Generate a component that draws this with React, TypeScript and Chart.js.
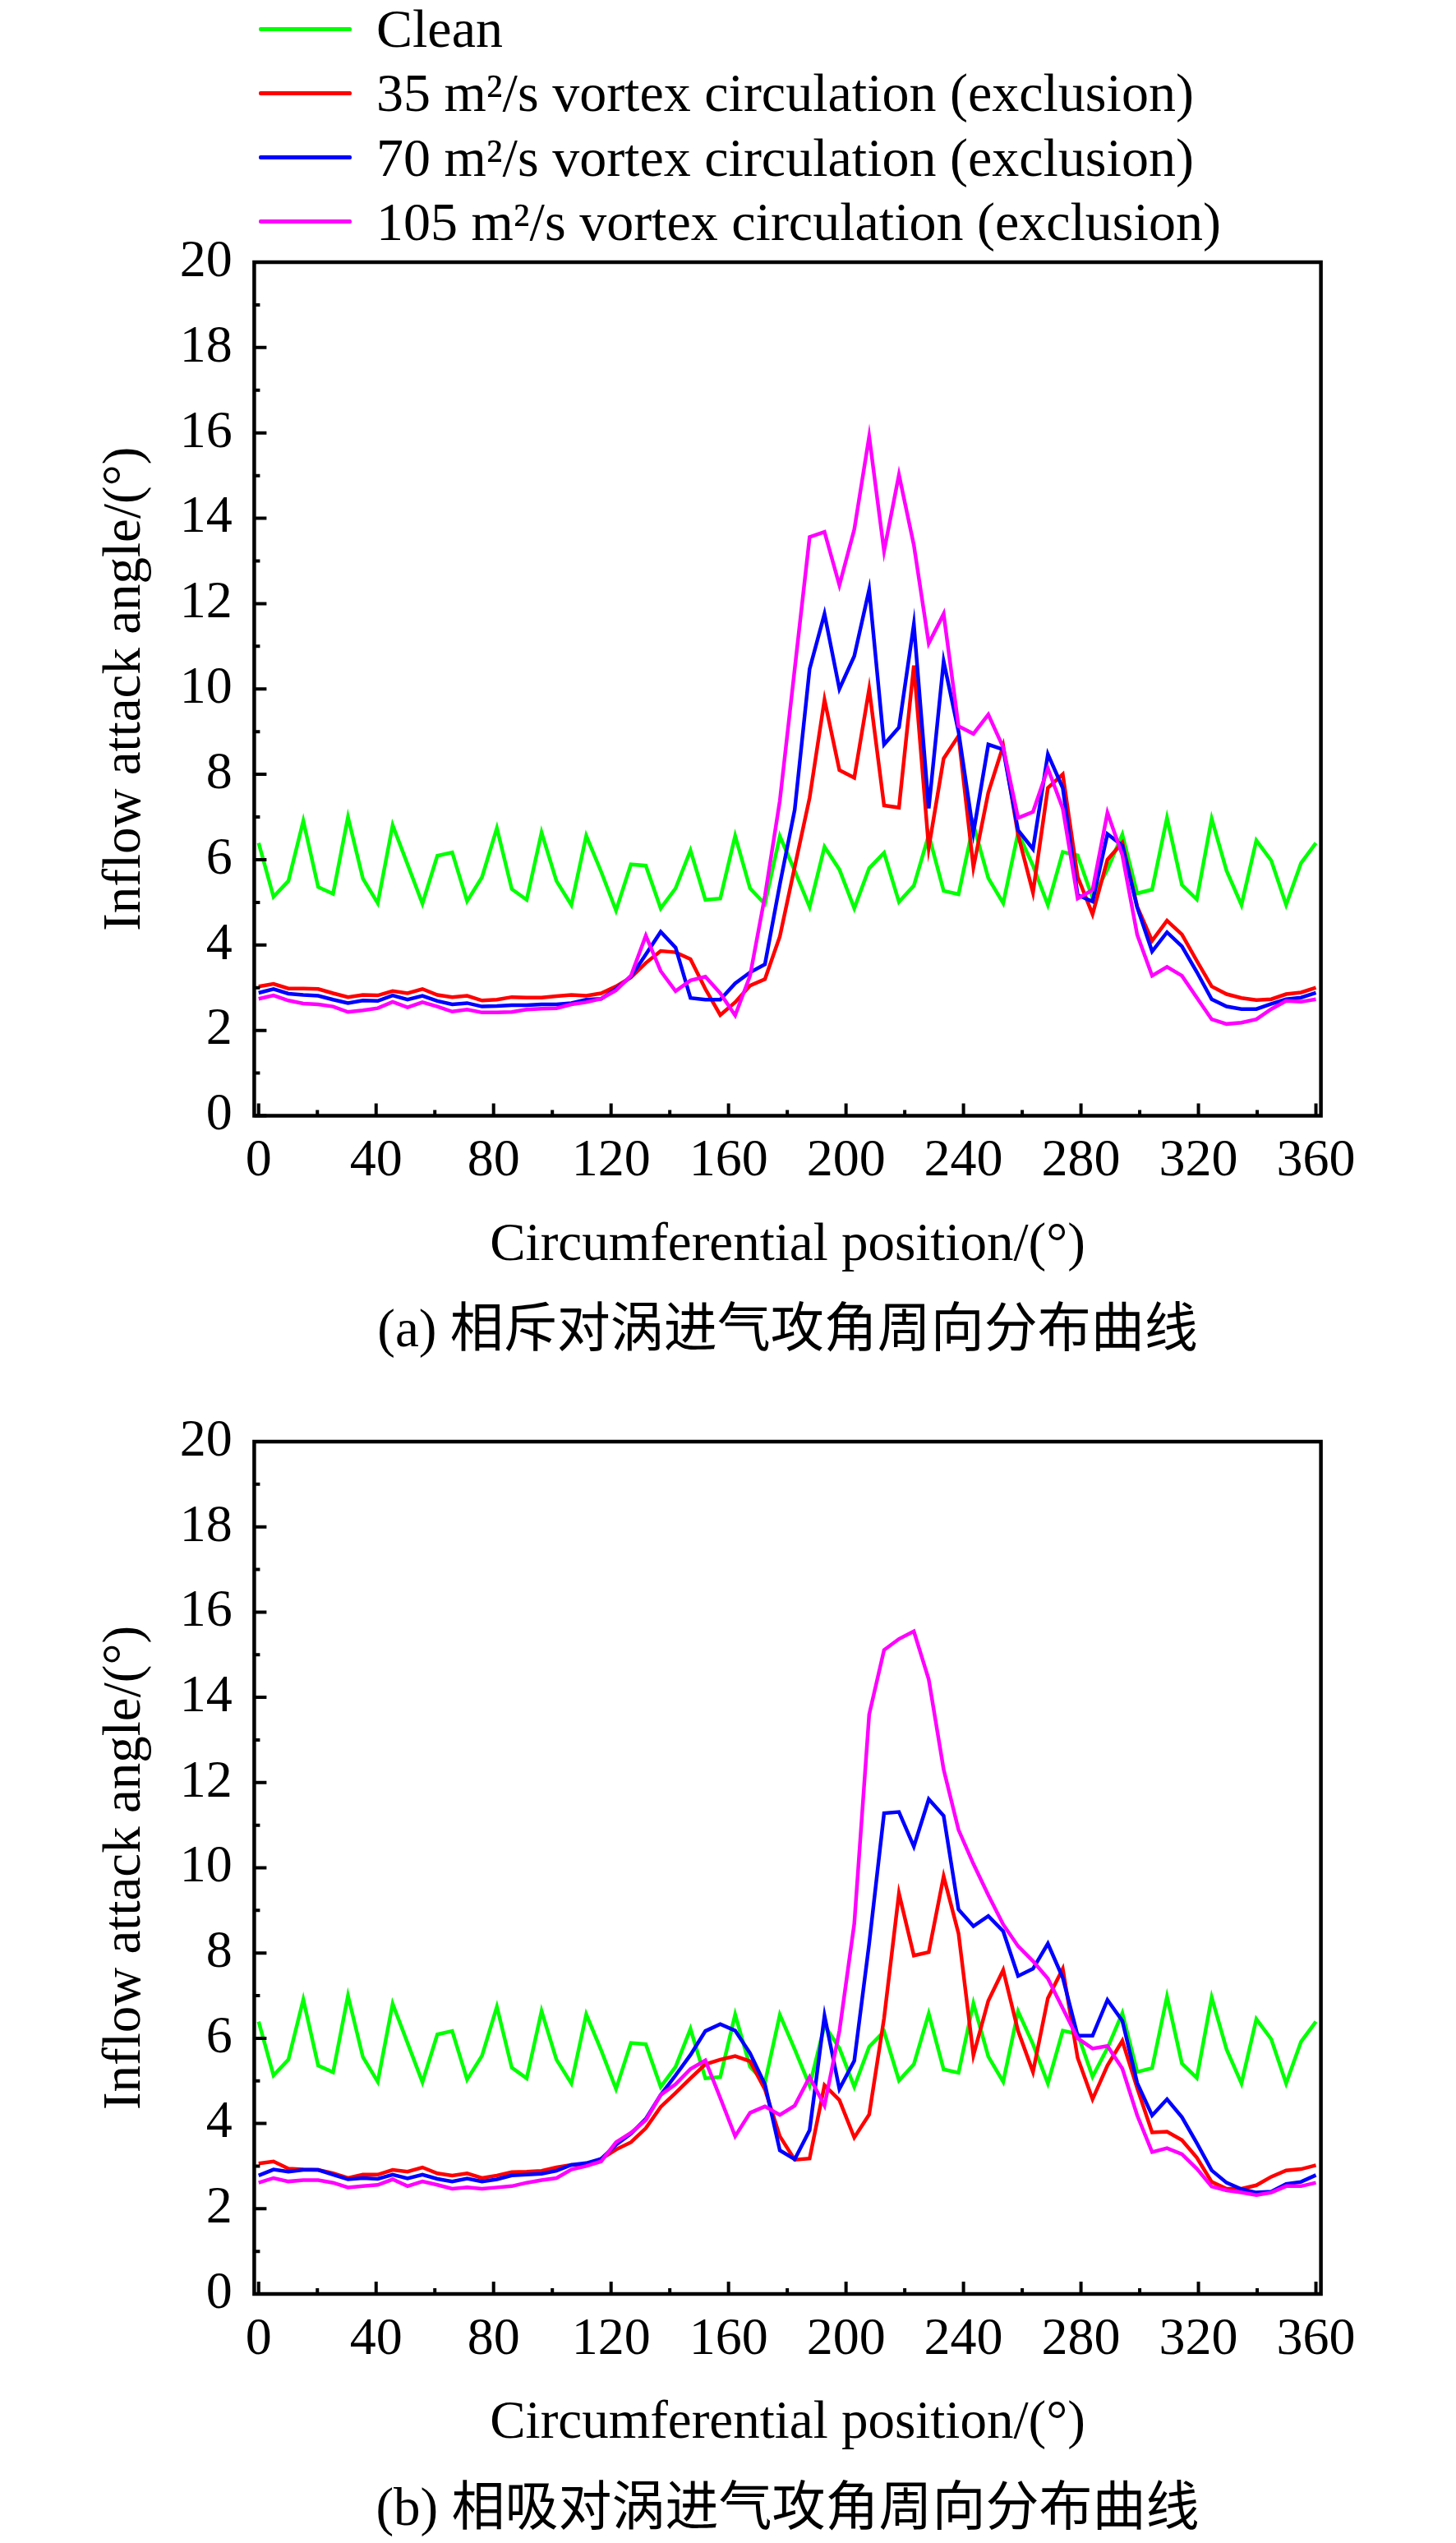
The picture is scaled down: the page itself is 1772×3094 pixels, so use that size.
import { useEffect, useRef } from "react";
import { Chart, registerables } from "chart.js";

Chart.register(...registerables);

const FONT = '"Liberation Serif", "Noto Sans CJK SC", serif';

// 72 samples round the annulus, first and last both on the 0/360 seam
const positions = Array.from({ length: 72 }, (_, i) => (i * 360) / 71);

const xTicks = [0, 40, 80, 120, 160, 200, 240, 280, 320, 360];
const yTicks = [0, 2, 4, 6, 8, 10, 12, 14, 16, 18, 20];

const seriesLabels = [
  "Clean",
  "35 m²/s vortex circulation (exclusion)",
  "70 m²/s vortex circulation (exclusion)",
  "105 m²/s vortex circulation (exclusion)",
];
const seriesColors = ["#00ff00", "#ff0000", "#0000ff", "#ff00ff"];

const captionA = "(a) 相斥对涡进气攻角周向分布曲线";
const captionB = "(b) 相吸对涡进气攻角周向分布曲线";

const clean = [
  6.39, 5.13, 5.5, 6.91, 5.36, 5.2, 7.0, 5.56, 4.98, 6.81,
  5.89, 4.97, 6.09, 6.17, 5.03, 5.59, 6.74, 5.31, 5.06, 6.64,
  5.5, 4.94, 6.56, 5.72, 4.81, 5.89, 5.86, 4.86, 5.33, 6.22,
  5.06, 5.09, 6.56, 5.33, 4.96, 6.55, 5.74, 4.89, 6.3, 5.77,
  4.86, 5.8, 6.16, 5.01, 5.39, 6.58, 5.27, 5.19, 6.82, 5.57,
  4.98, 6.63, 5.86, 4.94, 6.18, 6.1, 5.1, 5.77, 6.59, 5.21,
  5.3, 6.98, 5.41, 5.07, 6.96, 5.74, 4.94, 6.45, 5.98, 4.94,
  5.92, 6.39,
];

// (a) exclusion pair
const excl35 = [
  3.03, 3.09, 2.98, 2.98, 2.97, 2.87, 2.78, 2.83, 2.82, 2.92,
  2.87, 2.97, 2.83, 2.78, 2.81, 2.7, 2.72, 2.78, 2.77, 2.77,
  2.8, 2.83, 2.81, 2.87, 3.03, 3.24, 3.58, 3.86, 3.83, 3.67,
  2.97, 2.36, 2.66, 3.05, 3.2, 4.2, 5.83, 7.45, 9.75, 8.1,
  7.92, 10.0, 7.27, 7.22, 10.55, 6.28, 8.37, 8.9, 5.82, 7.57,
  8.67, 6.58, 5.23, 7.68, 8.0, 5.6, 4.72, 6.0, 6.4, 4.9,
  4.1, 4.57, 4.25, 3.63, 3.03, 2.85, 2.76, 2.71, 2.73, 2.85,
  2.89, 3.0,
];
const excl70 = [
  2.88, 2.97, 2.86, 2.83, 2.81, 2.72, 2.64, 2.7, 2.69, 2.82,
  2.72, 2.81, 2.69, 2.61, 2.64, 2.56, 2.57, 2.59, 2.59, 2.61,
  2.61, 2.64, 2.72, 2.74, 2.97, 3.26, 3.78, 4.31, 3.94, 2.76,
  2.72, 2.72, 3.1, 3.36, 3.55, 5.42, 7.17, 10.47, 11.76, 10.0,
  10.77, 12.33, 8.7, 9.1, 11.52, 7.2, 10.65, 9.0, 6.63, 8.7,
  8.58, 6.69, 6.25, 8.47, 7.68, 5.17, 5.02, 6.6, 6.33, 4.88,
  3.85, 4.3, 3.97, 3.37, 2.73, 2.56, 2.5, 2.5, 2.62, 2.73,
  2.77, 2.88,
];
const excl105 = [
  2.74, 2.82, 2.7, 2.63, 2.61, 2.56, 2.43, 2.47, 2.52, 2.67,
  2.54, 2.66, 2.56, 2.44, 2.49, 2.42, 2.42, 2.43, 2.49, 2.51,
  2.52, 2.61, 2.66, 2.74, 2.94, 3.28, 4.22, 3.39, 2.92, 3.17,
  3.26, 2.87, 2.35, 3.28, 5.15, 7.38, 10.47, 13.56, 13.68, 12.43,
  13.74, 15.92, 13.23, 15.02, 13.37, 11.07, 11.76, 9.13, 8.95, 9.4,
  8.63, 6.98, 7.12, 8.14, 7.2, 5.09, 5.29, 7.1, 6.11, 4.24,
  3.28, 3.49, 3.28, 2.77, 2.26, 2.15, 2.18, 2.26, 2.5, 2.69,
  2.67, 2.73,
];

// (b) attraction pair
const attr35 = [
  3.06, 3.11, 2.94, 2.92, 2.91, 2.83, 2.72, 2.8, 2.8, 2.91,
  2.87, 2.97, 2.83, 2.78, 2.83, 2.72, 2.78, 2.86, 2.87, 2.89,
  2.97, 3.03, 3.02, 3.17, 3.39, 3.56, 3.89, 4.39, 4.72, 5.06,
  5.39, 5.5, 5.58, 5.46, 4.8, 3.7, 3.15, 3.18, 4.9, 4.55,
  3.67, 4.21, 6.47, 9.4, 7.94, 8.02, 9.8, 8.46, 5.6, 6.88,
  7.6, 6.17, 5.21, 6.94, 7.63, 5.54, 4.57, 5.36, 5.94, 4.83,
  3.79, 3.81, 3.61, 3.2, 2.63, 2.47, 2.47, 2.55, 2.75, 2.9,
  2.93, 3.02,
];
const attr70 = [
  2.78, 2.92, 2.87, 2.91, 2.91, 2.8, 2.69, 2.72, 2.7, 2.8,
  2.71, 2.8, 2.7, 2.64, 2.71, 2.64, 2.69, 2.78, 2.8, 2.82,
  2.89, 3.03, 3.07, 3.17, 3.5, 3.76, 4.11, 4.67, 5.13, 5.61,
  6.17, 6.33, 6.18, 5.65, 4.92, 3.37, 3.16, 3.84, 6.53, 4.81,
  5.47, 8.22, 11.28, 11.31, 10.5, 11.61, 11.22, 9.02, 8.63, 8.87,
  8.51, 7.46, 7.63, 8.22, 7.42, 6.06, 6.06, 6.9, 6.41, 4.95,
  4.19, 4.57, 4.15, 3.54, 2.9, 2.61, 2.46, 2.38, 2.4, 2.58,
  2.63, 2.79,
];
const attr105 = [
  2.61, 2.72, 2.64, 2.67, 2.67, 2.61, 2.5, 2.53, 2.56, 2.69,
  2.53, 2.64, 2.56, 2.47, 2.5, 2.47, 2.5, 2.53, 2.61, 2.67,
  2.72, 2.92, 3.0, 3.11, 3.56, 3.78, 4.08, 4.67, 4.92, 5.28,
  5.48, 4.6, 3.7, 4.25, 4.4, 4.2, 4.42, 5.09, 4.42, 6.17,
  8.69, 13.6, 15.11, 15.37, 15.55, 14.42, 12.31, 10.89, 10.09, 9.36,
  8.67, 8.16, 7.81, 7.4, 6.7, 6.0, 5.76, 5.82, 5.29, 4.19,
  3.33, 3.42, 3.28, 2.94, 2.52, 2.43, 2.38, 2.32, 2.38, 2.53,
  2.53, 2.61,
];

// inward ticks on the left and bottom, then the closed frame
const frameTicks = {
  id: "frameTicks",
  afterDatasetsDraw(chart: Chart) {
    const { ctx, chartArea: a } = chart;
    const x = chart.scales.x;
    const y = chart.scales.y;
    ctx.save();
    ctx.strokeStyle = "#000";
    ctx.lineWidth = 4;
    ctx.beginPath();
    for (let v = 0; v <= 20; v += 1) {
      const py = y.getPixelForValue(v);
      ctx.moveTo(a.left, py);
      ctx.lineTo(a.left + (v % 2 === 0 ? 15 : 7), py);
    }
    for (let v = 0; v <= 360; v += 20) {
      const px = x.getPixelForValue(v);
      ctx.moveTo(px, a.bottom);
      ctx.lineTo(px, a.bottom - (v % 40 === 0 ? 15 : 7));
    }
    ctx.stroke();
    ctx.lineWidth = 4.5;
    ctx.strokeRect(a.left, a.top, a.right - a.left, a.bottom - a.top);
    ctx.restore();
  },
};

interface PanelProps {
  series: number[][];
  caption: string;
  top: number;
  height: number;
  padTop: number;
  padBottom: number;
}

function AnglePanel({ series, caption, top, height, padTop, padBottom }: PanelProps) {
  const canvasRef = useRef<HTMLCanvasElement>(null);
  const chartRef = useRef<Chart | null>(null);

  useEffect(() => {
    if (!canvasRef.current) return;
    if (chartRef.current) chartRef.current.destroy();

    const axisFont = { family: FONT, size: 65, lineHeight: 1 };
    const tickFont = { family: FONT, size: 64, lineHeight: 1 };

    chartRef.current = new Chart(canvasRef.current, {
      type: "line",
      data: {
        datasets: series.map((values, i) => ({
          label: seriesLabels[i],
          data: values.map((v, j) => ({ x: positions[j], y: v })),
          borderColor: seriesColors[i],
          backgroundColor: seriesColors[i],
          borderWidth: 4.5,
          pointRadius: 0,
          tension: 0,
          order: series.length - i,
        })),
      },
      options: {
        animation: false,
        responsive: false,
        layout: { padding: { top: padTop, bottom: padBottom, left: 0, right: 164.4 } },
        plugins: {
          legend: { display: false },
          tooltip: { enabled: false },
          title: {
            display: true,
            text: caption,
            position: "bottom",
            fullSize: false,
            color: "#000",
            font: { ...axisFont, weight: "normal" },
            padding: { top: 40.5, bottom: 0 },
          },
        },
        scales: {
          x: {
            type: "linear",
            min: -1.5,
            max: 361.7,
            afterBuildTicks: (s) => {
              s.ticks = xTicks.map((value) => ({ value }));
            },
            afterFit: (s) => {
              s.height = 190.5;
              s.paddingLeft = 0;
              s.paddingRight = 0;
            },
            grid: { display: false, drawTicks: false },
            border: { display: false },
            ticks: { color: "#000", font: tickFont, padding: 24, maxRotation: 0, autoSkip: false },
            title: {
              display: true,
              text: "Circumferential position/(°)",
              color: "#000",
              font: axisFont,
              padding: 0,
            },
          },
          y: {
            type: "linear",
            min: 0,
            max: 20,
            afterBuildTicks: (s) => {
              s.ticks = yTicks.map((value) => ({ value }));
            },
            afterFit: (s) => {
              s.width = 309.4;
              s.paddingTop = 0;
              s.paddingBottom = 0;
            },
            grid: { display: false, drawTicks: false },
            border: { display: false },
            ticks: { color: "#000", font: tickFont, padding: 26.7, autoSkip: false },
            title: {
              display: true,
              text: "Inflow attack angle/(°)",
              color: "#000",
              font: axisFont,
              padding: { top: 120.5, bottom: 0 },
            },
          },
        },
      },
      plugins: [frameTicks],
    });

    return () => {
      if (chartRef.current) {
        chartRef.current.destroy();
        chartRef.current = null;
      }
    };
  }, [series, caption, padTop, padBottom]);

  return (
    <canvas
      ref={canvasRef}
      width={1772}
      height={height}
      style={{ position: "absolute", left: 0, top, width: 1772, height }}
    />
  );
}

const seriesA = [clean, excl35, excl70, excl105];
const seriesB = [clean, attr35, attr70, attr105];

export default function App() {
  return (
    <div
      style={{
        position: "absolute",
        left: 0,
        top: 0,
        width: 1772,
        height: 3094,
        background: "#fff",
        fontFamily: FONT,
        overflow: "hidden",
      }}
    >
      {seriesLabels.map((label, i) => (
        <div
          key={label}
          style={{
            position: "absolute",
            left: 315,
            top: 35 + i * 78.3 - 40,
            height: 80,
            display: "flex",
            alignItems: "center",
            whiteSpace: "nowrap",
          }}
        >
          <span
            style={{
              display: "inline-block",
              width: 113,
              height: 5,
              borderRadius: 2,
              background: seriesColors[i],
              marginRight: 30,
            }}
          />
          <span style={{ fontSize: 66, color: "#000", lineHeight: "normal" }}>{label}</span>
        </div>
      ))}
      <AnglePanel series={seriesA} caption={captionA} top={290} height={1410} padTop={29} padBottom={46.5} />
      <AnglePanel series={seriesB} caption={captionB} top={1700} height={1394} padTop={54} padBottom={7} />
    </div>
  );
}
